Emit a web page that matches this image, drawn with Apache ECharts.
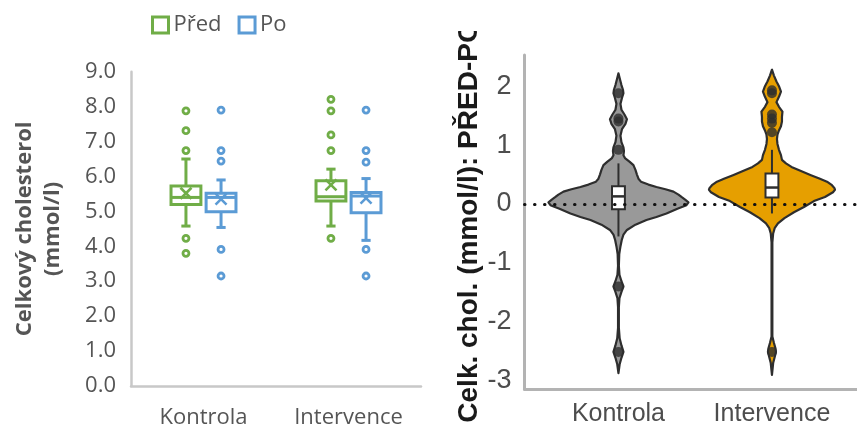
<!DOCTYPE html>
<html>
<head>
<meta charset="utf-8">
<script src="https://cdn.jsdelivr.net/npm/echarts@6/dist/echarts.min.js"></script>
<style>
  html, body { margin: 0; padding: 0; background: #fff; }
  #chart { width: 857px; height: 432px; }
</style>
</head>
<body>
<div id="chart"></div>
<script>
// ---- data ----
const categories = ['Kontrola', 'Intervence'];
const leftTicks = [0, 1, 2, 3, 4, 5, 6, 7, 8, 9];
const rightTicks = [-3, -2, -1, 0, 1, 2];

// total cholesterol (mmol/l): [whisker low, Q1, median, Q3, whisker high]
const boxPred = [[4.58, 5.20, 5.40, 5.73, 6.50], [4.58, 5.30, 5.42, 5.88, 6.21]];
const boxPo = [[4.54, 4.99, 5.40, 5.52, 5.90], [4.17, 4.96, 5.44, 5.54, 5.94]];
const meanPred = [5.52, 5.76];
const meanPo = [5.35, 5.38];
const outliersPred = [[7.88, 7.31, 6.74, 4.23, 3.80], [8.21, 7.88, 7.19, 6.74, 4.23]];
const outliersPo = [[7.90, 6.74, 6.44, 3.91, 3.15], [7.90, 6.74, 6.41, 3.91, 3.15]];

// difference PŘED-PO: [whisker low, Q1, median, Q3, whisker high]
const diffBox = [[-0.55, -0.09, 0.13, 0.30, 0.69], [-0.16, 0.11, 0.28, 0.52, 0.92]];
const diffOutliers = [[1.88, 1.45, 1.40, 0.92, -1.40, -2.51], [1.93, 1.88, 1.52, 1.45, 1.38, 1.22, -2.51]];

// violin density profiles: [value, relative density]
const densityKontrola = [
  [2.22, 0], [2.12, 1.5], [2.02, 3], [1.94, 4.5], [1.88, 5], [1.80, 3.5], [1.70, 2], [1.60, 3],
  [1.52, 6], [1.44, 8.5], [1.36, 7], [1.27, 3.5], [1.16, 2], [1.05, 3], [0.96, 5], [0.90, 5.5],
  [0.83, 5], [0.78, 6.5], [0.72, 11], [0.66, 15], [0.58, 17], [0.50, 18.5], [0.43, 20], [0.38, 22.5],
  [0.33, 30], [0.29, 38], [0.25, 47], [0.21, 55], [0.16, 60], [0.12, 63], [0.07, 67], [0.03, 70],
  [-0.02, 68], [-0.08, 59], [-0.16, 48], [-0.22, 38], [-0.27, 28], [-0.35, 17], [-0.44, 8.5],
  [-0.52, 5], [-0.61, 3.3], [-0.72, 2], [-0.85, 0.8], [-1.05, 0.4], [-1.20, 1], [-1.31, 3],
  [-1.40, 5], [-1.49, 3], [-1.60, 1], [-1.75, 0.4], [-2.10, 0.4], [-2.28, 1.2], [-2.40, 3],
  [-2.51, 5], [-2.61, 3], [-2.72, 1.2], [-2.87, 0]
];
const densityIntervence = [
  [2.28, 0], [2.18, 2], [2.08, 4.5], [2.00, 7], [1.91, 9], [1.82, 7], [1.73, 4.5], [1.65, 7],
  [1.57, 10.5], [1.48, 10], [1.40, 10], [1.32, 9], [1.25, 7], [1.18, 5.5], [1.10, 5], [1.02, 5.5],
  [0.92, 7], [0.83, 9], [0.75, 10], [0.69, 14], [0.63, 19.5], [0.56, 29], [0.49, 39], [0.43, 48],
  [0.38, 55], [0.32, 60], [0.27, 62.5], [0.24, 63], [0.20, 61], [0.12, 53], [0.05, 42], [-0.05, 32],
  [-0.14, 22], [-0.24, 12.5], [-0.33, 6], [-0.41, 2.7], [-0.50, 1.2], [-0.65, 0.4], [-2.25, 0.4],
  [-2.36, 2], [-2.45, 3.5], [-2.51, 4], [-2.58, 3], [-2.70, 1.2], [-2.90, 0]
];
const densities = [densityKontrola, densityIntervence];

// ---- styles ----
const GREEN = '#70ad47';
const BLUE = '#5b9bd5';
const LEFT_TEXT = '#555555';
const VIOLIN_FILL = ['#999999', '#e69f00'];
const DARK = '#2e2e2e';
const VIOLIN_MAX_HALF = 0.456;   // x-axis units at the widest point
const INNER_BOX_HALF = 0.042;    // x-axis units

function boxRenderer(color, offset) {
  return function (params, api) {
    const cat = api.value(0);
    const band = api.size([1, 0])[0];
    const cx = api.coord([cat, 0])[0] + offset * band;
    const y = v => api.coord([cat, v])[1];
    const half = 0.103 * band;
    const cap = 4.6;
    const lo = y(api.value(1)), q1 = y(api.value(2)), med = y(api.value(3));
    const q3 = y(api.value(4)), hi = y(api.value(5)), mean = y(api.value(6));
    const st = { stroke: color, lineWidth: 3, fill: null };
    const line = (x1, y1, x2, y2, w) => ({
      type: 'line', shape: { x1, y1, x2, y2 }, style: Object.assign({}, st, { lineWidth: w || 3 })
    });
    const m = 5.5;
    return {
      type: 'group',
      children: [
        line(cx, q3, cx, hi), line(cx, q1, cx, lo),
        line(cx - cap, hi, cx + cap, hi), line(cx - cap, lo, cx + cap, lo),
        { type: 'rect', shape: { x: cx - half, y: q3, width: 2 * half, height: q1 - q3 }, style: st },
        line(cx - half, med, cx + half, med),
        line(cx - m, mean - m, cx + m, mean + m, 2.6),
        line(cx - m, mean + m, cx + m, mean - m, 2.6)
      ]
    };
  };
}

function outlierRenderer(color, offset) {
  return function (params, api) {
    const cat = api.value(0);
    const band = api.size([1, 0])[0];
    const p = api.coord([cat, api.value(1)]);
    return {
      type: 'circle',
      shape: { cx: p[0] + offset * band, cy: p[1], r: 3 },
      style: { stroke: color, lineWidth: 2.8, fill: '#fff' }
    };
  };
}

function violinRenderer(params, api) {
  const xc = api.value(0);
  const prof = densities[params.dataIndex];
  let maxD = 0;
  densities.forEach(d => d.forEach(p => { maxD = Math.max(maxD, p[1]); }));
  const k = VIOLIN_MAX_HALF / maxD;
  const left = prof.map(p => api.coord([xc - p[1] * k, p[0]]));
  const right = prof.slice().reverse().map(p => api.coord([xc + p[1] * k, p[0]]));
  return {
    type: 'polygon',
    shape: { points: left.concat(right) },
    style: { fill: VIOLIN_FILL[params.dataIndex], stroke: DARK, lineWidth: 2.2, lineJoin: 'round' }
  };
}

function innerBoxRenderer(params, api) {
  const xc = api.value(0);
  const c = v => api.coord([xc, v]);
  const l = api.coord([xc - INNER_BOX_HALF, api.value(4)]);
  const r = api.coord([xc + INNER_BOX_HALF, api.value(2)]);
  const med = c(api.value(3))[1];
  const st = { stroke: DARK, lineWidth: 2 };
  return {
    type: 'group',
    children: [
      { type: 'line', shape: { x1: c(0)[0], y1: c(api.value(1))[1], x2: c(0)[0], y2: r[1] }, style: st },
      { type: 'line', shape: { x1: c(0)[0], y1: l[1], x2: c(0)[0], y2: c(api.value(5))[1] }, style: st },
      { type: 'rect', shape: { x: l[0], y: l[1], width: r[0] - l[0], height: r[1] - l[1] },
        style: { fill: '#fff', stroke: DARK, lineWidth: 2 } },
      { type: 'line', shape: { x1: l[0], y1: med, x2: r[0], y2: med }, style: { stroke: DARK, lineWidth: 2.5 } }
    ]
  };
}

const flatOutliers = arr => arr.flatMap((vals, i) => vals.map(v => [i, v]));

const chart = echarts.init(document.getElementById('chart'), null, { renderer: 'canvas' });
chart.setOption({
  animation: false,
  backgroundColor: '#fff',
  legend: {
    left: 146, top: 9,
    itemWidth: 16, itemHeight: 16, itemGap: 16,
    textStyle: { color: LEFT_TEXT, fontSize: 22, fontFamily: 'Open Sans' },
    data: [
      { name: 'Před', icon: 'rect', itemStyle: { color: '#fff', borderColor: GREEN, borderWidth: 3 } },
      { name: 'Po', icon: 'rect', itemStyle: { color: '#fff', borderColor: BLUE, borderWidth: 3 } }
    ]
  },
  grid: [
    { left: 131, top: 71.7, width: 290, height: 314.3 },
    { left: 524.5, top: 55, right: 0, height: 334 }
  ],
  xAxis: [
    {
      type: 'category', gridIndex: 0, data: categories,
      axisLine: { lineStyle: { color: '#c8c8c8', width: 2.5 } },
      axisTick: { show: false },
      axisLabel: { color: LEFT_TEXT, fontSize: 22, fontFamily: 'Open Sans', margin: 21 }
    },
    {
      type: 'value', gridIndex: 1, min: 0.388, max: 2.554,
      axisLine: { show: true, onZero: false, lineStyle: { color: '#b3b3b3', width: 3 } },
      axisTick: { show: false },
      splitLine: { show: false },
      axisLabel: {
        customValues: [1, 2],
        formatter: v => categories[Math.round(v) - 1],
        color: '#4d4d4d', fontSize: 25, fontFamily: 'Liberation Sans', margin: 13
      }
    }
  ],
  yAxis: [
    {
      type: 'value', gridIndex: 0, min: 0, max: 9, interval: 1,
      axisLine: { show: true, lineStyle: { color: '#c8c8c8', width: 2.5 } },
      axisTick: { show: false },
      splitLine: { show: false },
      axisLabel: {
        customValues: leftTicks,
        formatter: v => v.toFixed(1),
        color: LEFT_TEXT, fontSize: 22, fontFamily: 'Open Sans', margin: 15
      },
      name: 'Celkový cholesterol\n(mmol/l)',
      nameLocation: 'middle', nameGap: 64,
      nameTextStyle: { color: LEFT_TEXT, fontSize: 22, fontWeight: 'bold', fontFamily: 'Open Sans', lineHeight: 28 }
    },
    {
      type: 'value', gridIndex: 1, min: -3.14, max: 2.53,
      axisLine: { show: true, onZero: false, lineStyle: { color: '#b3b3b3', width: 3 } },
      axisTick: { show: false },
      splitLine: { show: false },
      axisLabel: {
        customValues: rightTicks,
        color: '#4d4d4d', fontSize: 27, fontFamily: 'Liberation Sans', margin: 13
      },
      name: 'Celk. chol. (mmol/l): PŘED-PO',
      nameLocation: 'middle', nameGap: 37,
      nameTextStyle: { color: '#1a1a1a', fontSize: 28, fontWeight: 'bold', fontFamily: 'Liberation Sans' }
    }
  ],
  graphic: [
    { type: 'rect', z: 100, shape: { x: 445, y: 0, width: 55, height: 31 }, style: { fill: '#fff' } }
  ],
  series: [
    {
      name: 'Před', type: 'custom', xAxisIndex: 0, yAxisIndex: 0, z: 3,
      itemStyle: { color: GREEN },
      renderItem: boxRenderer(GREEN, -0.121),
      encode: { x: 0, y: [1, 2, 3, 4, 5, 6] },
      data: categories.map((c, i) => [i].concat(boxPred[i], [meanPred[i]]))
    },
    {
      name: 'Po', type: 'custom', xAxisIndex: 0, yAxisIndex: 0, z: 3,
      itemStyle: { color: BLUE },
      renderItem: boxRenderer(BLUE, 0.121),
      encode: { x: 0, y: [1, 2, 3, 4, 5, 6] },
      data: categories.map((c, i) => [i].concat(boxPo[i], [meanPo[i]]))
    },
    {
      name: 'Před', type: 'custom', xAxisIndex: 0, yAxisIndex: 0, z: 4,
      itemStyle: { color: GREEN },
      renderItem: outlierRenderer(GREEN, -0.121),
      encode: { x: 0, y: 1 },
      data: flatOutliers(outliersPred)
    },
    {
      name: 'Po', type: 'custom', xAxisIndex: 0, yAxisIndex: 0, z: 4,
      itemStyle: { color: BLUE },
      renderItem: outlierRenderer(BLUE, 0.121),
      encode: { x: 0, y: 1 },
      data: flatOutliers(outliersPo)
    },
    {
      name: 'violin', type: 'custom', xAxisIndex: 1, yAxisIndex: 1, z: 2,
      renderItem: violinRenderer,
      encode: { x: 0, y: 1 },
      data: categories.map((c, i) => [i + 1, 0])
    },
    {
      name: 'diffBox', type: 'custom', xAxisIndex: 1, yAxisIndex: 1, z: 3,
      renderItem: innerBoxRenderer,
      encode: { x: 0, y: [1, 2, 3, 4, 5] },
      data: categories.map((c, i) => [i + 1].concat(diffBox[i]))
    },
    {
      name: 'diffOutliers', type: 'scatter', xAxisIndex: 1, yAxisIndex: 1, z: 4,
      symbol: 'circle', symbolSize: 10,
      itemStyle: { color: DARK },
      data: diffOutliers.flatMap((vals, i) => vals.map(v => [i + 1, v])),
      markLine: {
        silent: true, symbol: 'none', label: { show: false },
        lineStyle: { color: '#111', width: 3, type: [0.5, 9.5], cap: 'round' },
        data: [{ yAxis: 0 }]
      }
    }
  ]
});
</script>
</body>
</html>
